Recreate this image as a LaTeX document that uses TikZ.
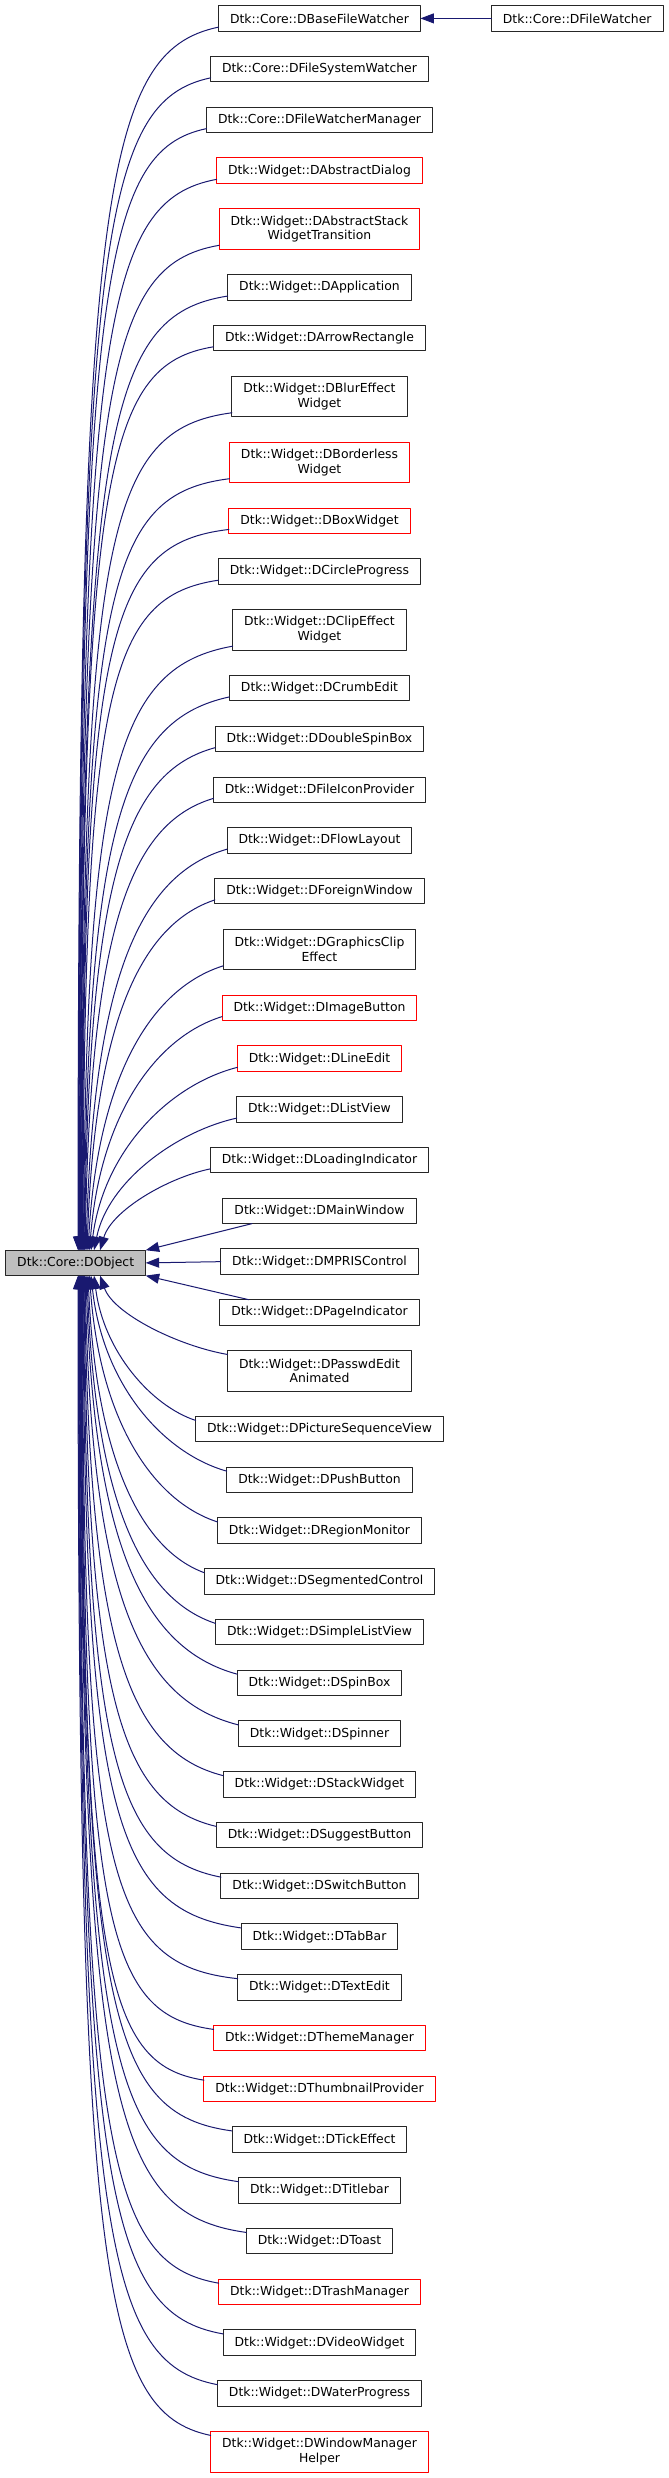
\documentclass[tikz,border=0pt]{standalone}
\usepackage{fontspec}
\setmainfont{DejaVu Sans}
\usepackage{xcolor}
\usetikzlibrary{arrows.meta,positioning,calc}
\definecolor{edgeblue}{HTML}{191970}
\definecolor{objgrey}{HTML}{BFBFBF}
\definecolor{frame}{HTML}{262626}

\tikzset{
  cls/.style={draw=frame,line width=1pt,fill=white,inner xsep=11.5pt,inner ysep=0pt,outer sep=0pt,
    minimum height=25.4pt,align=center,font=\fontsize{12.4}{14.7}\selectfont},
  undoc/.style={cls,draw=red},
  twoline/.style={minimum height=40.6pt},
  inherit/.style={edgeblue,line width=1pt,{Triangle[length=13.5pt,width=10pt]}-}
}

\begin{document}
\begin{tikzpicture}[x=1pt,y=1pt,line cap=round,line join=round,node distance=25.35pt]
  \useasboundingbox (0,0) rectangle (669,-2478);
  % base class
  \node[cls,fill=objgrey] (obj) at (75.7,-1262.9) {Dtk::Core::DObject};
  % derived classes, one column
  \node[cls] (base) at (319.5,-18.4) {Dtk::Core::DBaseFileWatcher};
  \node[cls,right=71pt of base] (fw) {Dtk::Core::DFileWatcher};
  \node[cls,below=of base] (fsw) {Dtk::Core::DFileSystemWatcher};
  \node[cls,below=of fsw] (fwm) {Dtk::Core::DFileWatcherManager};
  \node[undoc,below=of fwm] (absdlg) {Dtk::Widget::DAbstractDialog};
  \node[undoc,twoline,below=of absdlg] (absstack) {Dtk::Widget::DAbstractStack\\WidgetTransition};
  \node[cls,below=of absstack] (app) {Dtk::Widget::DApplication};
  \node[cls,below=of app] (arrowrect) {Dtk::Widget::DArrowRectangle};
  \node[cls,twoline,below=of arrowrect] (blur) {Dtk::Widget::DBlurEffect\\Widget};
  \node[undoc,twoline,below=of blur] (borderless) {Dtk::Widget::DBorderless\\Widget};
  \node[undoc,below=of borderless] (boxw) {Dtk::Widget::DBoxWidget};
  \node[cls,below=of boxw] (circle) {Dtk::Widget::DCircleProgress};
  \node[cls,twoline,below=of circle] (clip) {Dtk::Widget::DClipEffect\\Widget};
  \node[cls,below=of clip] (crumb) {Dtk::Widget::DCrumbEdit};
  \node[cls,below=of crumb] (dspin) {Dtk::Widget::DDoubleSpinBox};
  \node[cls,below=of dspin] (fileicon) {Dtk::Widget::DFileIconProvider};
  \node[cls,below=of fileicon] (flow) {Dtk::Widget::DFlowLayout};
  \node[cls,below=of flow] (foreign) {Dtk::Widget::DForeignWindow};
  \node[cls,twoline,below=of foreign] (gclip) {Dtk::Widget::DGraphicsClip\\Effect};
  \node[undoc,below=of gclip] (imgbtn) {Dtk::Widget::DImageButton};
  \node[undoc,below=of imgbtn] (lineedit) {Dtk::Widget::DLineEdit};
  \node[cls,below=of lineedit] (listview) {Dtk::Widget::DListView};
  \node[cls,below=of listview] (loading) {Dtk::Widget::DLoadingIndicator};
  \node[cls,below=of loading] (mainwin) {Dtk::Widget::DMainWindow};
  \node[cls,below=of mainwin] (mpris) {Dtk::Widget::DMPRISControl};
  \node[cls,below=of mpris] (pageind) {Dtk::Widget::DPageIndicator};
  \node[cls,twoline,below=of pageind] (passwd) {Dtk::Widget::DPasswdEdit\\Animated};
  \node[cls,below=of passwd] (picseq) {Dtk::Widget::DPictureSequenceView};
  \node[cls,below=of picseq] (pushbtn) {Dtk::Widget::DPushButton};
  \node[cls,below=of pushbtn] (region) {Dtk::Widget::DRegionMonitor};
  \node[cls,below=of region] (segment) {Dtk::Widget::DSegmentedControl};
  \node[cls,below=of segment] (simplelist) {Dtk::Widget::DSimpleListView};
  \node[cls,below=of simplelist] (spinbox) {Dtk::Widget::DSpinBox};
  \node[cls,below=of spinbox] (spinner) {Dtk::Widget::DSpinner};
  \node[cls,below=of spinner] (stack) {Dtk::Widget::DStackWidget};
  \node[cls,below=of stack] (suggest) {Dtk::Widget::DSuggestButton};
  \node[cls,below=of suggest] (switchbtn) {Dtk::Widget::DSwitchButton};
  \node[cls,below=of switchbtn] (tabbar) {Dtk::Widget::DTabBar};
  \node[cls,below=of tabbar] (textedit) {Dtk::Widget::DTextEdit};
  \node[undoc,below=of textedit] (theme) {Dtk::Widget::DThemeManager};
  \node[undoc,below=of theme] (thumb) {Dtk::Widget::DThumbnailProvider};
  \node[cls,below=of thumb] (tick) {Dtk::Widget::DTickEffect};
  \node[cls,below=of tick] (titlebar) {Dtk::Widget::DTitlebar};
  \node[cls,below=of titlebar] (toast) {Dtk::Widget::DToast};
  \node[undoc,below=of toast] (trash) {Dtk::Widget::DTrashManager};
  \node[cls,below=of trash] (video) {Dtk::Widget::DVideoWidget};
  \node[cls,below=of video] (water) {Dtk::Widget::DWaterProgress};
  \node[undoc,twoline,below=of water] (wmhelper) {Dtk::Widget::DWindowManager\\Helper};

  % inheritance edges
  \draw[inherit] (base.east) -- (fw.west);
  % children above the base class
  \foreach \cl/\ex in {base/72.3,fsw/72.8,fwm/73.3,absdlg/73.8,absstack/74.3,app/74.8,
      arrowrect/75.3,blur/75.8,borderless/76.3,boxw/76.8,circle/77.3,clip/77.8,crumb/78.3,
      dspin/78.8,fileicon/79.3,flow/80.3,foreign/81.3,gclip/82.3,imgbtn/83.8,lineedit/85.3,
      listview/88.3,loading/94.3}
    \draw[inherit] let \p1=([yshift=4pt]\cl.south west), \p2=([xshift=\ex pt]obj.north west),
        \n1={\y1-\y2}, \n2={\x1-\x2}, \n3={min(1,\n1/700)} in
      (\p2) .. controls ({\x2+(0.12-0.12*\n3)*\n2},{\y2+(0.44+0.42*\n3)*\n1})
        and ({\x1-(0.33+0.5*\n3)*\n2},{\y1-(0.12-0.1*\n3)*\n1}) .. (\p1);
  \draw[inherit] (obj.north east) -- ([xshift=29pt]mainwin.south west);
  \draw[inherit] (obj.east) -- (mpris.west);
  \draw[inherit] (obj.south east) -- ([xshift=29pt]pageind.north west);
  % children below the base class
  \foreach \cl/\ex in {passwd/94.3,picseq/88.3,pushbtn/85.3,region/83.8,segment/82.3,
      simplelist/81.3,spinbox/80.3,spinner/79.3,stack/78.8,suggest/78.3,switchbtn/77.8,
      tabbar/77.3,textedit/76.8,theme/76.3,thumb/75.8,tick/75.3,titlebar/74.8,toast/74.3,
      trash/73.8,video/73.3,water/72.8,wmhelper/72.3}
    \draw[inherit] let \p1=([yshift=-4pt]\cl.north west), \p2=([xshift=\ex pt]obj.south west),
        \n1={\y2-\y1}, \n2={\x1-\x2}, \n3={min(1,\n1/700)} in
      (\p2) .. controls ({\x2+(0.12-0.12*\n3)*\n2},{\y2-(0.44+0.42*\n3)*\n1})
        and ({\x1-(0.33+0.5*\n3)*\n2},{\y1+(0.12-0.1*\n3)*\n1}) .. (\p1);
\end{tikzpicture}
\end{document}
